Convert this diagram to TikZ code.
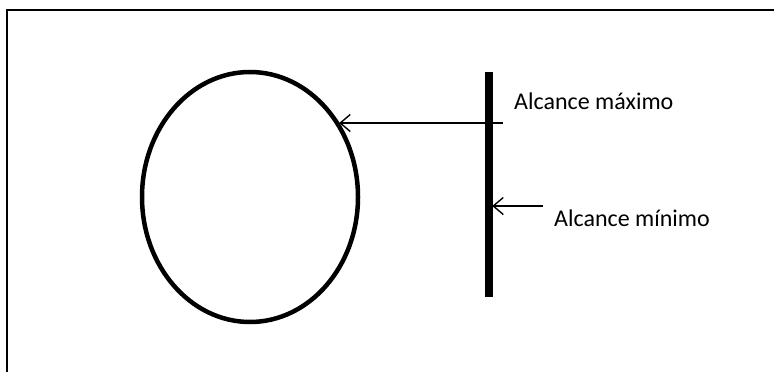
\documentclass[tikz,border=0pt]{standalone}
\usepackage{fontspec}
\setmainfont{Carlito}
\usetikzlibrary{arrows.meta,shapes.geometric}
\definecolor{ink}{HTML}{000000}

\begin{document}
\begin{tikzpicture}[x=1pt,y=-1pt,font=\fontsize{24}{28}\selectfont,
              ring/.style={ellipse,draw=ink,line width=4.5pt,minimum width=216pt,minimum height=250pt,inner sep=0},
              rod/.style={draw=ink,fill=ink,minimum width=7pt,minimum height=224pt,inner sep=0},
              lbl/.style={anchor=base west,inner sep=0,text=ink},
              hint/.style={draw=ink,line width=1.8pt,-{Straight Barb[length=10pt,width=17pt,line width=1.4pt]}}]
              \useasboundingbox (0,0) rectangle (774,372);
              % frame, open at the right and bottom
              \draw[ink,line width=1.5pt] (7,372) -- (7,10) -- (774,10);
              \node[ring] (ring) at (250,197) {};
              \node[rod] (rod) at (488.5,184.5) {};
              \node[lbl] (maxlbl) at (514,109) {Alcance máximo};
              \node[lbl] (minlbl) at (554,226) {Alcance mínimo};
              \coordinate (maxtail) at (503,123);
              \coordinate (mintail) at (543,206);
              \draw[hint] (maxtail) -- (ring.40 |- maxtail);
              \draw[hint] (mintail) -- (rod.east |- mintail);
\end{tikzpicture}
\end{document}
